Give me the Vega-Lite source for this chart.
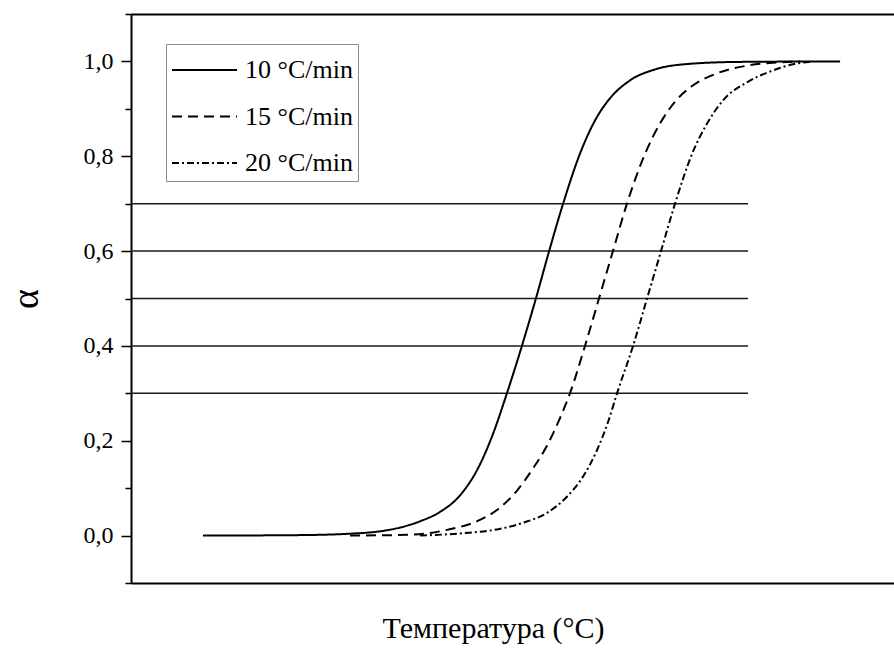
{
  "$schema": "https://vega.github.io/schema/vega-lite/v6.json",
  "autosize": "none",
  "width": 763,
  "height": 569,
  "padding": {"left": 131, "top": 14, "right": 0, "bottom": 77},
  "background": "white",
  "config": {
    "view": {"stroke": null},
    "font": "Liberation Serif",
    "axis": {"grid": false, "domainColor": "black", "tickColor": "black", "labelColor": "black", "titleColor": "black", "labelFont": "Liberation Serif", "titleFont": "Liberation Serif", "titleFontWeight": "normal"},
    "legend": {"labelFont": "Liberation Serif", "titleFont": "Liberation Serif"}
  },
  "datasets": {
    "curves": [
      {"T": 178.3, "alpha": 0.0, "rate": "10 °C/min"},
      {"T": 216.4, "alpha": 0.001, "rate": "10 °C/min"},
      {"T": 236.1, "alpha": 0.004, "rate": "10 °C/min"},
      {"T": 247.9, "alpha": 0.009, "rate": "10 °C/min"},
      {"T": 255.8, "alpha": 0.017, "rate": "10 °C/min"},
      {"T": 263.6, "alpha": 0.03, "rate": "10 °C/min"},
      {"T": 271.5, "alpha": 0.05, "rate": "10 °C/min"},
      {"T": 279.4, "alpha": 0.085, "rate": "10 °C/min"},
      {"T": 287.2, "alpha": 0.15, "rate": "10 °C/min"},
      {"T": 292.3, "alpha": 0.214, "rate": "10 °C/min"},
      {"T": 297.8, "alpha": 0.3, "rate": "10 °C/min"},
      {"T": 303.7, "alpha": 0.4, "rate": "10 °C/min"},
      {"T": 309.2, "alpha": 0.5, "rate": "10 °C/min"},
      {"T": 314.4, "alpha": 0.6, "rate": "10 °C/min"},
      {"T": 319.9, "alpha": 0.7, "rate": "10 °C/min"},
      {"T": 326.5, "alpha": 0.805, "rate": "10 °C/min"},
      {"T": 332.4, "alpha": 0.875, "rate": "10 °C/min"},
      {"T": 338.3, "alpha": 0.922, "rate": "10 °C/min"},
      {"T": 346.2, "alpha": 0.96, "rate": "10 °C/min"},
      {"T": 356.0, "alpha": 0.983, "rate": "10 °C/min"},
      {"T": 369.8, "alpha": 0.995, "rate": "10 °C/min"},
      {"T": 389.5, "alpha": 0.999, "rate": "10 °C/min"},
      {"T": 428.8, "alpha": 1.0, "rate": "10 °C/min"},
      {"T": 236.1, "alpha": 0.0, "rate": "15 °C/min"},
      {"T": 260.9, "alpha": 0.002, "rate": "15 °C/min"},
      {"T": 274.2, "alpha": 0.012, "rate": "15 °C/min"},
      {"T": 287.2, "alpha": 0.033, "rate": "15 °C/min"},
      {"T": 293.9, "alpha": 0.054, "rate": "15 °C/min"},
      {"T": 301.8, "alpha": 0.095, "rate": "15 °C/min"},
      {"T": 308.1, "alpha": 0.142, "rate": "15 °C/min"},
      {"T": 313.6, "alpha": 0.19, "rate": "15 °C/min"},
      {"T": 318.7, "alpha": 0.248, "rate": "15 °C/min"},
      {"T": 322.6, "alpha": 0.3, "rate": "15 °C/min"},
      {"T": 328.5, "alpha": 0.4, "rate": "15 °C/min"},
      {"T": 334.0, "alpha": 0.5, "rate": "15 °C/min"},
      {"T": 339.5, "alpha": 0.6, "rate": "15 °C/min"},
      {"T": 345.0, "alpha": 0.7, "rate": "15 °C/min"},
      {"T": 352.1, "alpha": 0.805, "rate": "15 °C/min"},
      {"T": 358.0, "alpha": 0.869, "rate": "15 °C/min"},
      {"T": 363.9, "alpha": 0.915, "rate": "15 °C/min"},
      {"T": 370.6, "alpha": 0.948, "rate": "15 °C/min"},
      {"T": 380.4, "alpha": 0.975, "rate": "15 °C/min"},
      {"T": 392.2, "alpha": 0.991, "rate": "15 °C/min"},
      {"T": 405.2, "alpha": 0.998, "rate": "15 °C/min"},
      {"T": 413.0, "alpha": 1.0, "rate": "15 °C/min"},
      {"T": 263.6, "alpha": 0.0, "rate": "20 °C/min"},
      {"T": 280.5, "alpha": 0.005, "rate": "20 °C/min"},
      {"T": 293.9, "alpha": 0.013, "rate": "20 °C/min"},
      {"T": 304.1, "alpha": 0.027, "rate": "20 °C/min"},
      {"T": 313.6, "alpha": 0.048, "rate": "20 °C/min"},
      {"T": 321.4, "alpha": 0.082, "rate": "20 °C/min"},
      {"T": 327.7, "alpha": 0.124, "rate": "20 °C/min"},
      {"T": 333.2, "alpha": 0.18, "rate": "20 °C/min"},
      {"T": 337.6, "alpha": 0.24, "rate": "20 °C/min"},
      {"T": 341.1, "alpha": 0.3, "rate": "20 °C/min"},
      {"T": 347.4, "alpha": 0.4, "rate": "20 °C/min"},
      {"T": 352.9, "alpha": 0.5, "rate": "20 °C/min"},
      {"T": 358.4, "alpha": 0.6, "rate": "20 °C/min"},
      {"T": 363.9, "alpha": 0.7, "rate": "20 °C/min"},
      {"T": 370.6, "alpha": 0.805, "rate": "20 °C/min"},
      {"T": 376.5, "alpha": 0.869, "rate": "20 °C/min"},
      {"T": 382.8, "alpha": 0.918, "rate": "20 °C/min"},
      {"T": 392.2, "alpha": 0.956, "rate": "20 °C/min"},
      {"T": 402.4, "alpha": 0.981, "rate": "20 °C/min"},
      {"T": 410.3, "alpha": 0.994, "rate": "20 °C/min"},
      {"T": 417.8, "alpha": 1.0, "rate": "20 °C/min"}
    ],
    "levels": [
      {"level": 0.3},
      {"level": 0.4},
      {"level": 0.5},
      {"level": 0.6},
      {"level": 0.7}
    ]
  },
  "layer": [
    {
      "data": {"name": "levels"},
      "mark": {"type": "rule", "strokeWidth": 1.5, "color": "#1a1a1a"},
      "encoding": {
        "x": {"datum": 150, "type": "quantitative", "scale": {"domain": [150, 450], "nice": false, "zero": false},
              "axis": {"orient": "top", "title": null, "labels": false, "ticks": false, "domain": true, "domainWidth": 2}},
        "x2": {"datum": 392.6},
        "y": {"field": "level", "type": "quantitative",
              "scale": {"domain": [-0.1, 1.1], "nice": false, "zero": false},
              "axis": null}
      }
    },
    {
      "data": {"name": "curves"},
      "mark": {"type": "line", "interpolate": "monotone", "strokeWidth": 2, "color": "black"},
      "encoding": {
        "x": {"field": "T", "type": "quantitative", "scale": {"domain": [150, 450], "nice": false, "zero": false},
              "axis": {"orient": "bottom", "title": "Температура (°C)", "titleFont": "Liberation Serif", "titleFontSize": 30, "titleFontWeight": "normal",
                       "titlePadding": 30, "titleX": 362,
                       "labels": false, "ticks": false, "domain": true, "domainWidth": 2}},
        "y": {"field": "alpha", "type": "quantitative",
              "scale": {"domain": [-0.1, 1.1], "nice": false, "zero": false},
              "axis": {
                "orient": "left",
                "title": "α", "titleFont": "Liberation Serif", "titleFontSize": 38, "titleFontWeight": "normal", "titlePadding": 38,
                "values": [-0.1, 0, 0.1, 0.2, 0.3, 0.4, 0.5, 0.6, 0.7, 0.8, 0.9, 1.0, 1.1],
                "tickSize": {"condition": {"test": "abs(round(datum.value*10))%2==1", "value": 6}, "value": 10},
                "tickWidth": 1.5,
                "domainWidth": 2,
                "labelFont": "Liberation Serif",
                "labelFontSize": 24,
                "labelPadding": 8,
                "labelExpr": "abs(round(datum.value*10))%2==1 ? '' : replace(format(datum.value, '.1f'), '.', ',')"
              }},
        "strokeDash": {"field": "rate", "type": "nominal",
          "scale": {"domain": ["10 °C/min", "15 °C/min", "20 °C/min"], "range": [[1, 0], [10, 6], [7, 3, 2, 3]]},
          "legend": {
            "title": " ", "titleFontSize": 10, "titlePadding": 0,
            "orient": "none", "legendX": 35, "legendY": 30,
            "strokeColor": "#8c8c8c", "padding": 5,
            "symbolType": "stroke", "symbolSize": 4225, "symbolStrokeWidth": 2, "symbolStrokeColor": "black",
            "clipHeight": 22, "rowPadding": 20.5,
            "labelFont": "Liberation Serif", "labelFontSize": 26, "labelColor": "black", "labelOffset": 7, "labelLimit": 250
          }}
      }
    }
  ],
  "resolve": {"axis": {"x": "independent", "y": "independent"}}
}
